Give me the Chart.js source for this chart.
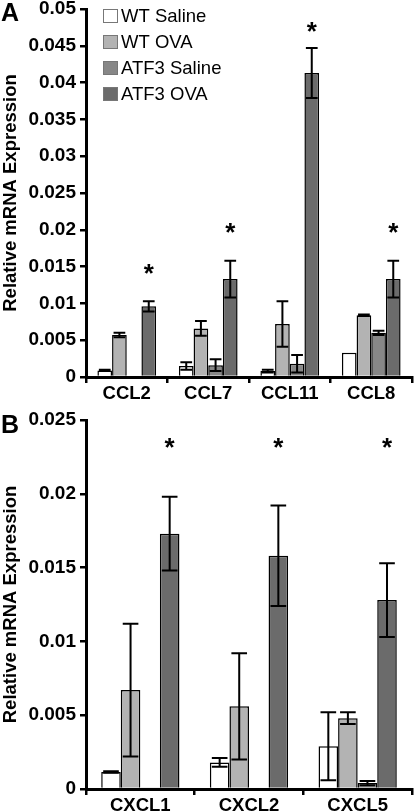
<!DOCTYPE html>
<html>
<head>
<meta charset="utf-8">
<script src="https://cdn.jsdelivr.net/npm/chart.js@4.4.0/dist/chart.umd.min.js"></script>
<style>
  html, body { margin: 0; padding: 0; background: #fff; }
  canvas { display: block; }
</style>
</head>
<body>
<canvas id="chartA" width="414" height="400"></canvas>
<canvas id="chartB" width="414" height="412"></canvas>
<script>
const FONT = "'Liberation Sans', Arial, sans-serif"
Chart.defaults.font.family = FONT
Chart.defaults.color = '#000'

const seriesNames = ['WT Saline', 'WT OVA', 'ATF3 Saline', 'ATF3 OVA']
const seriesColors = ['#ffffff', '#b3b3b3', '#878787', '#6b6b6b']

// Panel A - CC chemokines
const labelsA = ['CCL2', 'CCL7', 'CCL11', 'CCL8']
const wtSalineA = [0.0009, 0.0015, 0.0008, 0.0033]
const wtOvaA = [0.0057, 0.0066, 0.0072, 0.0084]
const atfSalineA = [0, 0.0016, 0.0018, 0.006]
const atfOvaA = [0.0096, 0.0133, 0.0413, 0.0133]
const wtSalineErrA = [0.0001, 0.0005, 0.0002, 0]
const wtOvaErrA = [0.0003, 0.001, 0.0031, 0.0001]
const atfSalineErrA = [0, 0.0008, 0.0012, 0.0003]
const atfOvaErrA = [0.0007, 0.0025, 0.0034, 0.0025]
const starsA = [0.0149, 0.0205, 0.0478, 0.0205]

// Panel B - CXC chemokines
const labelsB = ['CXCL1', 'CXCL2', 'CXCL5']
const wtSalineB = [0.00115, 0.0018, 0.0029]
const wtOvaB = [0.0067, 0.0056, 0.0048]
const atfSalineB = [0.0001, 0, 0.0004]
const atfOvaB = [0.0173, 0.0158, 0.0128]
const wtSalineErrB = [0.00005, 0.0003, 0.0023]
const wtOvaErrB = [0.0045, 0.0036, 0.0004]
const atfSalineErrB = [0, 0, 0.00015]
const atfOvaErrB = [0.0025, 0.0034, 0.0025]
const starsB = [0.0236, 0.0236, 0.0236]

/**
 * Mean +/- error whiskers drawn over each bar.
 */
function errorBarsPlugin(errors) {
  return {
    id: 'errorBars',
    afterDatasetsDraw(chart) {
      const { ctx, scales: { y } } = chart
      ctx.save()
      ctx.strokeStyle = '#000'
      ctx.lineWidth = 2
      chart.data.datasets.forEach((ds, di) => {
        const meta = chart.getDatasetMeta(di)
        meta.data.forEach((bar, i) => {
          const err = errors[di][i]
          if (!err) return
          const v = ds.data[i]
          const yHi = y.getPixelForValue(v + err)
          const yLo = y.getPixelForValue(Math.max(v - err, 0))
          const half = bar.width * 0.4
          ctx.beginPath()
          ctx.moveTo(bar.x, yHi)
          ctx.lineTo(bar.x, yLo)
          ctx.moveTo(bar.x - half, yHi)
          ctx.lineTo(bar.x + half, yHi)
          ctx.moveTo(bar.x - half, yLo)
          ctx.lineTo(bar.x + half, yLo)
          ctx.stroke()
        })
      })
      ctx.restore()
    },
  }
}

/**
 * Significance asterisks above the ATF3 OVA bars.
 */
function starsPlugin(stars) {
  return {
    id: 'stars',
    afterDraw(chart) {
      const { ctx, scales: { y } } = chart
      const meta = chart.getDatasetMeta(3)
      ctx.save()
      ctx.fillStyle = '#000'
      ctx.font = 'bold 26px ' + FONT
      ctx.textAlign = 'center'
      ctx.textBaseline = 'alphabetic'
      stars.forEach((v, i) => {
        if (v == null) return
        const bar = meta.data[i]
        ctx.fillText('*', bar.x, y.getPixelForValue(v) + 15)
      })
      ctx.restore()
    },
  }
}

function panelLetterPlugin(letter, top) {
  return {
    id: 'panelLetter',
    afterDraw(chart) {
      const { ctx } = chart
      ctx.save()
      ctx.fillStyle = '#000'
      ctx.font = 'bold 25px ' + FONT
      ctx.textAlign = 'left'
      ctx.textBaseline = 'alphabetic'
      ctx.fillText(letter, 1, top)
      ctx.restore()
    },
  }
}

const boxLegendPlugin = {
  id: 'boxLegend',
  afterDraw(chart) {
    const { ctx, chartArea: { left, top } } = chart
    ctx.save()
    ctx.font = '18.5px ' + FONT
    ctx.textBaseline = 'middle'
    ctx.textAlign = 'left'
    seriesNames.forEach((name, i) => {
      const cy = top + 7 + i * 26
      ctx.fillStyle = seriesColors[i]
      ctx.fillRect(left + 17, cy - 7, 15, 14)
      ctx.strokeStyle = '#777'
      ctx.lineWidth = 1
      ctx.strokeRect(left + 17.5, cy - 6.5, 14, 13)
      ctx.fillStyle = '#000'
      ctx.fillText(name, left + 35, cy + 1)
    })
    ctx.restore()
  },
}

function makeChart(canvas, labels, series, errors, stars, yMax, topPad, letter, letterY, withLegend) {
  const datasets = series.map((data, i) => ({
    label: seriesNames[i],
    data,
    backgroundColor: seriesColors[i],
    borderColor: '#000',
    borderWidth: 1.5,
    borderSkipped: 'start',
    barPercentage: 1,
    categoryPercentage: 0.72,
  }))

  const plugins = [errorBarsPlugin(errors), starsPlugin(stars), panelLetterPlugin(letter, letterY)]
  if (withLegend) plugins.push(boxLegendPlugin)

  return new Chart(canvas, {
    type: 'bar',
    data: { labels, datasets },
    options: {
      responsive: false,
      devicePixelRatio: 1,
      animation: false,
      layout: { padding: { top: topPad, right: 2, bottom: 0, left: 0 } },
      plugins: {
        legend: { display: false },
        tooltip: { enabled: false },
      },
      scales: {
        x: {
          grid: {
            offset: true,
            drawOnChartArea: false,
            drawTicks: true,
            tickLength: 6,
            color: '#000',
            lineWidth: 2.5,
          },
          border: { color: '#000', width: 3 },
          ticks: {
            font: { size: 18.5, weight: 'bold' },
            padding: 0,
            maxRotation: 0,
            autoSkip: false,
          },
          afterFit: s => {
            s.height = 23
            s.paddingLeft = 0
            s.paddingRight = 0
          },
        },
        y: {
          min: 0,
          max: yMax,
          grid: {
            drawOnChartArea: false,
            drawTicks: true,
            tickLength: 6,
            color: '#000',
            lineWidth: 2.5,
          },
          border: { color: '#000', width: 3 },
          ticks: {
            stepSize: 0.005,
            font: { size: 19, weight: 'bold' },
            padding: 4,
            callback: v => String(+v.toFixed(3)),
          },
          title: {
            display: true,
            text: 'Relative mRNA Expression',
            font: { size: 18.5, weight: 'bold' },
            padding: { top: 0, bottom: 0 },
          },
          afterFit: s => {
            s.width = 86
            s.paddingTop = 0
            s.paddingBottom = 0
          },
        },
      },
    },
    plugins,
  })
}

makeChart(
  document.getElementById('chartA'),
  labelsA,
  [wtSalineA, wtOvaA, atfSalineA, atfOvaA],
  [wtSalineErrA, wtOvaErrA, atfSalineErrA, atfOvaErrA],
  starsA, 0.05, 9, 'A', 21, true
)

makeChart(
  document.getElementById('chartB'),
  labelsB,
  [wtSalineB, wtOvaB, atfSalineB, atfOvaB],
  [wtSalineErrB, wtOvaErrB, atfSalineErrB, atfOvaErrB],
  starsB, 0.025, 20, 'B', 33, false
)
</script>
</body>
</html>
